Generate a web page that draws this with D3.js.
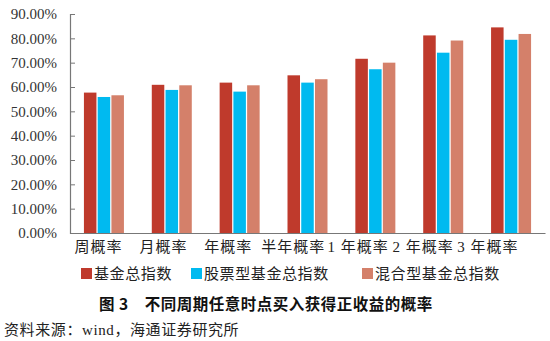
<!DOCTYPE html>
<html>
<head>
<meta charset="utf-8">
<script src="https://cdn.jsdelivr.net/npm/d3@7/dist/d3.min.js"></script>
<style>
  html, body { margin: 0; padding: 0; background: #fff; }
  svg { display: block; }
</style>
</head>
<body>
<svg id="chart" width="550" height="341"></svg>
<script>
// Periods on the x axis
const categories = ["周概率", "月概率", "年概率", "半年概率", "1 年概率", "2 年概率", "3 年概率"];
// Series names
const seriesNames = ["基金总指数", "股票型基金总指数", "混合型基金总指数"];
// Probability of a positive return (%) per period, one array per series
const fundIndex = [57.7, 60.9, 61.8, 64.8, 71.6, 81.2, 84.5];
const stockFundIndex = [55.9, 58.8, 58.1, 61.8, 67.3, 74.1, 79.4];
const hybridFundIndex = [56.6, 60.7, 60.7, 63.2, 70.0, 79.1, 81.8];
// Y axis ticks (%)
const yTicks = [0, 10, 20, 30, 40, 50, 60, 70, 80, 90];
const colors = ["#BF3A2C", "#00BAF0", "#D4806A"];

const title = "图 3\u2003不同周期任意时点买入获得正收益的概率";
const source = "资料来源：wind，海通证券研究所";

const serif = "'Liberation Serif', 'Noto Sans CJK SC', serif";
const sans = "'Noto Sans CJK SC', sans-serif";

const seriesData = [fundIndex, stockFundIndex, hybridFundIndex];

const svg = d3.select("#chart");
const margin = { left: 70, right: 5, top: 14, bottom: 108 };
const W = 550, H = 341;
const plotH = H - margin.top - margin.bottom;

const x = d3.scaleBand().domain(categories).range([margin.left, W - margin.right]).paddingInner(0).paddingOuter(0);
const x1 = d3.scaleBand().domain(seriesNames).range([0, 40]).paddingInner(0.09);
const y = d3.scaleLinear().domain([0, 90]).range([margin.top + plotH, margin.top]);
// Category labels sit on their own evenly spaced scale
const xLabel = d3.scalePoint().domain(categories).range([98.5, 488]);

// Bars
const groupOffset = (x.bandwidth() - 40) / 2;
const groups = svg.append("g").selectAll("g")
  .data(categories)
  .join("g")
  .attr("transform", c => `translate(${x(c) + groupOffset},0)`);

groups.selectAll("rect")
  .data((c, i) => seriesNames.map((s, j) => ({ s, v: seriesData[j][i], j })))
  .join("rect")
  .attr("x", d => x1(d.s))
  .attr("width", x1.bandwidth())
  .attr("y", d => y(d.v))
  .attr("height", d => y(0) - y(d.v))
  .attr("fill", d => colors[d.j]);

// Y axis
const yAxis = d3.axisRight(y)
  .tickValues(yTicks)
  .tickSize(5)
  .tickFormat(d => d.toFixed(2) + "%");
const yg = svg.append("g").attr("transform", `translate(${margin.left},0)`).call(yAxis);
yg.select(".domain").attr("stroke", "#777").attr("stroke-width", 1.2);
yg.selectAll(".tick line").attr("stroke", "#777");
yg.selectAll(".tick text")
  .attr("x", -13)
  .attr("text-anchor", "end")
  .attr("fill", "#333")
  .style("font-family", serif)
  .style("font-size", "15px");

// X axis baseline
const xAxis = d3.axisBottom(x).tickSize(0).tickFormat("");
const xg = svg.append("g").attr("transform", `translate(0,${y(0)})`).call(xAxis);
xg.select(".domain").attr("stroke", "#777").attr("stroke-width", 1.2);

// Category labels
svg.append("g").selectAll("text")
  .data(categories)
  .join("text")
  .attr("x", c => xLabel(c))
  .attr("y", y(0) + 19)
  .attr("text-anchor", "middle")
  .attr("fill", "#222")
  .style("font-family", serif)
  .style("font-size", "15px")
  .style("letter-spacing", "1px")
  .text(c => c);

// Legend
const legendX = [81, 191, 362];
const legend = svg.append("g").selectAll("g")
  .data(seriesNames)
  .join("g")
  .attr("transform", (d, i) => `translate(${legendX[i]},268)`);
legend.append("rect").attr("width", 11).attr("height", 11).attr("fill", (d, i) => colors[i]);
legend.append("text")
  .attr("x", 13)
  .attr("y", 11)
  .attr("fill", "#222")
  .style("font-family", serif)
  .style("font-size", "15px")
  .style("letter-spacing", "0.6px")
  .text(d => d);

// Figure caption
svg.append("text")
  .attr("x", 99)
  .attr("y", 310)
  .attr("fill", "#111")
  .style("font-family", sans)
  .style("font-size", "15.5px")
  .style("font-weight", "bold")
  .style("letter-spacing", "0.5px")
  .text(title);

// Source line
svg.append("text")
  .attr("x", 4)
  .attr("y", 335)
  .attr("fill", "#222")
  .style("font-family", serif)
  .style("font-size", "15px")
  .style("letter-spacing", "0.6px")
  .text(source);
</script>
</body>
</html>
